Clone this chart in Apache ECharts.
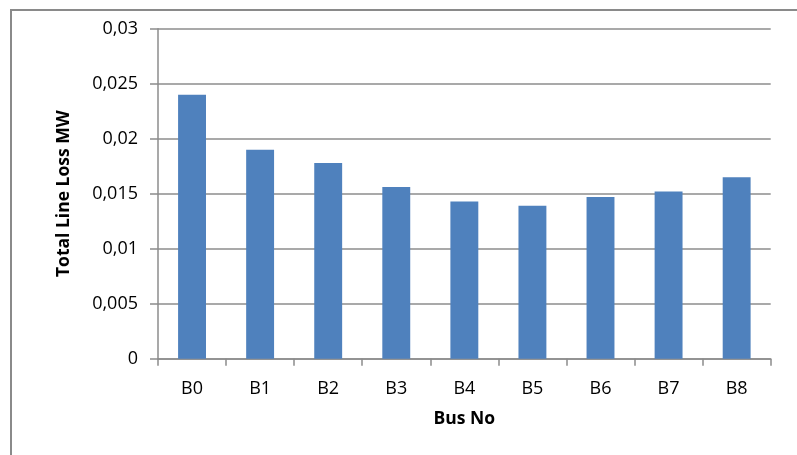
<!DOCTYPE html>
<html><head><meta charset="utf-8">
<script src="https://cdn.jsdelivr.net/npm/echarts@6/dist/echarts.min.js"></script>
<style>html,body{margin:0;padding:0;background:#fff}#c{width:797px;height:455px}</style>
</head><body><div id="c"></div>
<script>
const categories = ['B0','B1','B2','B3','B4','B5','B6','B7','B8'];
const lineLoss = [0.0240, 0.0190, 0.0178, 0.0156, 0.0143, 0.0139, 0.0147, 0.0152, 0.0165];
const yTicks = {min: 0, max: 0.03, interval: 0.005};
const xTitle = 'Bus No';
const yTitle = 'Total Line Loss MW';

const chart = echarts.init(document.getElementById('c'), null, {renderer: 'canvas'});
const fam = '"Open Sans", sans-serif';
chart.setOption({
  animation: false,
  backgroundColor: '#fff',
  graphic: [{type: 'rect', shape: {x: 11, y: 10, width: 800, height: 460},
    style: {fill: 'none', stroke: '#8a8a8a', lineWidth: 2}}],
  grid: {left: 158, top: 28.7, right: 26.3, bottom: 96.3},
  xAxis: {
    type: 'category', data: categories, boundaryGap: true,
    name: xTitle, nameLocation: 'middle', nameGap: 51,
    nameTextStyle: {fontFamily: fam, fontWeight: 'bold', fontSize: 17.5, color: '#000'},
    axisLine: {lineStyle: {color: '#8c8c8c', width: 1.5}},
    axisTick: {show: true, alignWithLabel: false, length: 7, lineStyle: {color: '#8c8c8c', width: 1.5}},
    axisLabel: {fontFamily: fam, fontSize: 18, color: '#000', margin: 21}
  },
  yAxis: {
    type: 'value', min: yTicks.min, max: yTicks.max, interval: yTicks.interval,
    name: yTitle, nameLocation: 'middle', nameGap: 85, nameRotate: 90,
    nameTextStyle: {fontFamily: fam, fontWeight: 'bold', fontSize: 17.5, color: '#000'},
    axisLine: {show: true, lineStyle: {color: '#8c8c8c', width: 1.5}},
    axisTick: {show: true, length: 8, lineStyle: {color: '#8c8c8c', width: 1.5}},
    splitLine: {lineStyle: {color: '#8c8c8c', width: 1.5}},
    axisLabel: {fontFamily: fam, fontSize: 18, color: '#000', margin: 20,
      formatter: v => String(+v.toFixed(4)).replace('.', ',')}
  },
  series: [{type: 'bar', data: lineLoss, barWidth: '41%',
    itemStyle: {color: '#4f81bd'}}]
});
</script></body></html>
